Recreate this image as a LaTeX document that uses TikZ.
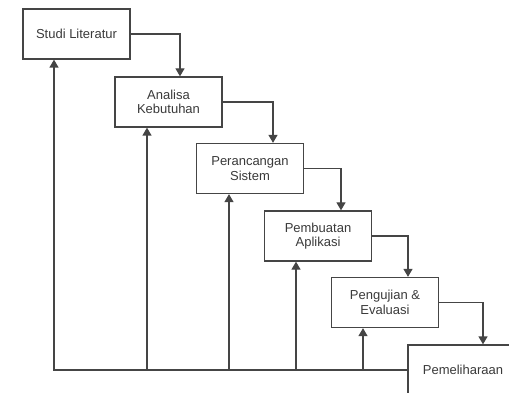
\documentclass[tikz,border=0pt]{standalone}
\usepackage{fontspec}
\setmainfont{Liberation Sans}
\usetikzlibrary{arrows.meta}
\definecolor{ln}{HTML}{454545}
\definecolor{tx}{HTML}{3A3A3A}
\tikzset{
  stepbox/.style={draw=ln, line width=1.3pt, fill=white, minimum width=107pt, minimum height=50pt,
    inner sep=0pt, align=center, text=tx, font=\fontsize{13}{14.5}\selectfont},
  conn/.style={draw=ln, line width=1.3pt, -{Triangle[width=9pt,length=8pt]}},
  plain/.style={draw=ln, line width=1.3pt}
}
\begin{document}
\begin{tikzpicture}[x=1pt,y=-1pt]
\useasboundingbox (0,0) rectangle (509,393);
\clip (0,0) rectangle (509,393);
\node[stepbox] (b1) at (76.5,34) {Studi Literatur};
\node[stepbox] (b2) at (168.5,102) {Analisa\\Kebutuhan};
\node[stepbox] (b3) at (250,168.5) {Perancangan\\Sistem};
\node[stepbox] (b4) at (318,236) {Pembuatan\\Aplikasi};
\node[stepbox] (b5) at (385,302.5) {Pengujian \&\\Evaluasi};
\node[stepbox, minimum width=110pt] (b6) at (463,370) {Pemeliharaan};
% forward arrows
\draw[conn] (b1.east) -| ([xshift=11.5]b2.north);
\draw[conn] (b2.east) -| ([xshift=23]b3.north);
\draw[conn] (b3.east) -| ([xshift=23]b4.north);
\draw[conn] (b4.east) -| ([xshift=23]b5.north);
\draw[conn] (b5.east) -| ([xshift=20]b6.north);
% feedback
\draw[conn] (b6.west) -| ([xshift=-22.5]b1.south);
\draw[conn] ([xshift=-21.5]b2.south |- b6.west) -- ([xshift=-21.5]b2.south);
\draw[conn] ([xshift=-21]b3.south |- b6.west) -- ([xshift=-21]b3.south);
\draw[conn] ([xshift=-22]b4.south |- b6.west) -- ([xshift=-22]b4.south);
\draw[conn] ([xshift=-22]b5.south |- b6.west) -- ([xshift=-22]b5.south);
\end{tikzpicture}
\end{document}
